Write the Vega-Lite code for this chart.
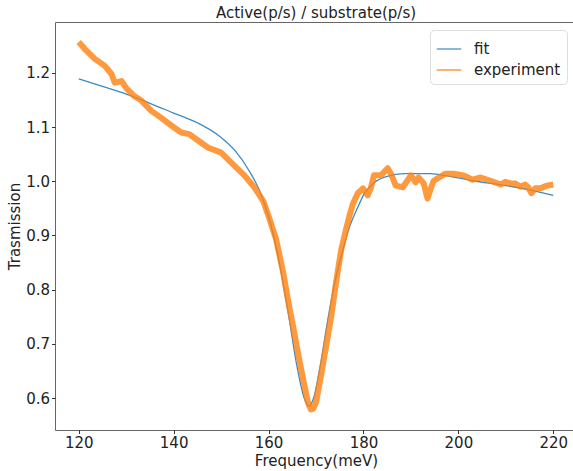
{
  "$schema": "https://vega.github.io/schema/vega-lite/v6.json",
  "autosize": "none",
  "width": 522,
  "height": 408,
  "padding": {"left": 55, "top": 22, "right": 0, "bottom": 41},
  "title": {"text": "Active(p/s) / substrate(p/s)", "fontSize": 15, "font": "DejaVu Sans", "fontWeight": "normal", "color": "#222", "offset": 1},
  "config": {
    "view": {"stroke": "#666", "strokeWidth": 1},
    "axis": {"grid": false, "domain": false, "tickColor": "#333", "tickSize": 3.5, "labelFont": "DejaVu Sans", "labelFontSize": 15, "labelColor": "#222", "titleFont": "DejaVu Sans", "titleFontSize": 15, "titleFontWeight": "normal", "titleColor": "#222", "labelPadding": 2}
  },
  "data": {"values": [
    {"x": 120, "y": 1.189, "s": "fit"},
    {"x": 125, "y": 1.175, "s": "fit"},
    {"x": 130, "y": 1.161, "s": "fit"},
    {"x": 135, "y": 1.144, "s": "fit"},
    {"x": 140, "y": 1.126, "s": "fit"},
    {"x": 145, "y": 1.108, "s": "fit"},
    {"x": 150, "y": 1.081, "s": "fit"},
    {"x": 153, "y": 1.056, "s": "fit"},
    {"x": 156, "y": 1.018, "s": "fit"},
    {"x": 158, "y": 0.985, "s": "fit"},
    {"x": 160, "y": 0.935, "s": "fit"},
    {"x": 162, "y": 0.862, "s": "fit"},
    {"x": 164, "y": 0.765, "s": "fit"},
    {"x": 166, "y": 0.658, "s": "fit"},
    {"x": 167.5, "y": 0.600, "s": "fit"},
    {"x": 168.5, "y": 0.585, "s": "fit"},
    {"x": 169.5, "y": 0.600, "s": "fit"},
    {"x": 171, "y": 0.665, "s": "fit"},
    {"x": 172.5, "y": 0.745, "s": "fit"},
    {"x": 174, "y": 0.815, "s": "fit"},
    {"x": 175.5, "y": 0.868, "s": "fit"},
    {"x": 177, "y": 0.914, "s": "fit"},
    {"x": 178.8, "y": 0.952, "s": "fit"},
    {"x": 180.1, "y": 0.976, "s": "fit"},
    {"x": 182.2, "y": 0.997, "s": "fit"},
    {"x": 185, "y": 1.009, "s": "fit"},
    {"x": 188.5, "y": 1.014, "s": "fit"},
    {"x": 194, "y": 1.014, "s": "fit"},
    {"x": 196.3, "y": 1.012, "s": "fit"},
    {"x": 203, "y": 1.001, "s": "fit"},
    {"x": 210, "y": 0.992, "s": "fit"},
    {"x": 215, "y": 0.984, "s": "fit"},
    {"x": 220, "y": 0.974, "s": "fit"},
    {"x": 120, "y": 1.257, "s": "experiment"},
    {"x": 121.3, "y": 1.244, "s": "experiment"},
    {"x": 123.4, "y": 1.226, "s": "experiment"},
    {"x": 125.5, "y": 1.213, "s": "experiment"},
    {"x": 126.9, "y": 1.198, "s": "experiment"},
    {"x": 127.6, "y": 1.182, "s": "experiment"},
    {"x": 129, "y": 1.185, "s": "experiment"},
    {"x": 130.1, "y": 1.171, "s": "experiment"},
    {"x": 131.6, "y": 1.158, "s": "experiment"},
    {"x": 133.2, "y": 1.149, "s": "experiment"},
    {"x": 135.3, "y": 1.130, "s": "experiment"},
    {"x": 137.4, "y": 1.117, "s": "experiment"},
    {"x": 139.5, "y": 1.103, "s": "experiment"},
    {"x": 141.6, "y": 1.090, "s": "experiment"},
    {"x": 143.3, "y": 1.087, "s": "experiment"},
    {"x": 144.4, "y": 1.080, "s": "experiment"},
    {"x": 147.3, "y": 1.062, "s": "experiment"},
    {"x": 150, "y": 1.053, "s": "experiment"},
    {"x": 152.1, "y": 1.035, "s": "experiment"},
    {"x": 154.9, "y": 1.011, "s": "experiment"},
    {"x": 157, "y": 0.989, "s": "experiment"},
    {"x": 158.9, "y": 0.963, "s": "experiment"},
    {"x": 160.1, "y": 0.933, "s": "experiment"},
    {"x": 161.6, "y": 0.893, "s": "experiment"},
    {"x": 163.1, "y": 0.831, "s": "experiment"},
    {"x": 164.1, "y": 0.781, "s": "experiment"},
    {"x": 165.2, "y": 0.731, "s": "experiment"},
    {"x": 166.2, "y": 0.683, "s": "experiment"},
    {"x": 167.3, "y": 0.634, "s": "experiment"},
    {"x": 168.3, "y": 0.592, "s": "experiment"},
    {"x": 168.9, "y": 0.579, "s": "experiment"},
    {"x": 169.4, "y": 0.580, "s": "experiment"},
    {"x": 170, "y": 0.592, "s": "experiment"},
    {"x": 171, "y": 0.639, "s": "experiment"},
    {"x": 172.1, "y": 0.694, "s": "experiment"},
    {"x": 173.2, "y": 0.750, "s": "experiment"},
    {"x": 174.2, "y": 0.812, "s": "experiment"},
    {"x": 175.3, "y": 0.873, "s": "experiment"},
    {"x": 176.3, "y": 0.910, "s": "experiment"},
    {"x": 177.1, "y": 0.938, "s": "experiment"},
    {"x": 177.8, "y": 0.959, "s": "experiment"},
    {"x": 178.8, "y": 0.978, "s": "experiment"},
    {"x": 179.9, "y": 0.987, "s": "experiment"},
    {"x": 180.9, "y": 0.974, "s": "experiment"},
    {"x": 181.6, "y": 0.989, "s": "experiment"},
    {"x": 182.2, "y": 1.011, "s": "experiment"},
    {"x": 183.7, "y": 1.011, "s": "experiment"},
    {"x": 185.1, "y": 1.024, "s": "experiment"},
    {"x": 185.8, "y": 1.014, "s": "experiment"},
    {"x": 186.8, "y": 0.992, "s": "experiment"},
    {"x": 188.3, "y": 0.989, "s": "experiment"},
    {"x": 190, "y": 1.011, "s": "experiment"},
    {"x": 191, "y": 0.998, "s": "experiment"},
    {"x": 191.6, "y": 1.007, "s": "experiment"},
    {"x": 192.7, "y": 0.996, "s": "experiment"},
    {"x": 193.5, "y": 0.968, "s": "experiment"},
    {"x": 194.2, "y": 0.987, "s": "experiment"},
    {"x": 194.8, "y": 1.001, "s": "experiment"},
    {"x": 196.3, "y": 1.009, "s": "experiment"},
    {"x": 197.3, "y": 1.014, "s": "experiment"},
    {"x": 199, "y": 1.014, "s": "experiment"},
    {"x": 201.1, "y": 1.011, "s": "experiment"},
    {"x": 203, "y": 1.003, "s": "experiment"},
    {"x": 204.7, "y": 1.007, "s": "experiment"},
    {"x": 206.8, "y": 1.001, "s": "experiment"},
    {"x": 208.9, "y": 0.994, "s": "experiment"},
    {"x": 209.9, "y": 0.999, "s": "experiment"},
    {"x": 211, "y": 0.996, "s": "experiment"},
    {"x": 212, "y": 0.996, "s": "experiment"},
    {"x": 213.1, "y": 0.990, "s": "experiment"},
    {"x": 214.1, "y": 0.994, "s": "experiment"},
    {"x": 214.7, "y": 0.989, "s": "experiment"},
    {"x": 215.4, "y": 0.978, "s": "experiment"},
    {"x": 216.2, "y": 0.987, "s": "experiment"},
    {"x": 217.3, "y": 0.987, "s": "experiment"},
    {"x": 218.7, "y": 0.992, "s": "experiment"},
    {"x": 220, "y": 0.994, "s": "experiment"}
  ]},
  "encoding": {
    "x": {"field": "x", "type": "quantitative", "scale": {"domain": [115, 225], "nice": false, "zero": false}, "axis": {"values": [120, 140, 160, 180, 200, 220], "title": "Frequency(meV)", "titlePadding": 3}},
    "y": {"field": "y", "type": "quantitative", "scale": {"domain": [0.541, 1.294], "nice": false, "zero": false}, "axis": {"values": [0.6, 0.7, 0.8, 0.9, 1.0, 1.1, 1.2], "format": ".1f", "title": "Trasmission", "titlePadding": 3}},
    "color": {"field": "s", "type": "nominal", "scale": {"domain": ["fit", "experiment"], "range": ["#3d8ac4", "#ff7f0e"]},
      "legend": {"title": null, "orient": "none", "legendX": 375, "legendY": 8, "symbolType": "stroke", "symbolSize": 600, "symbolStrokeWidth": 1.5, "labelFont": "DejaVu Sans", "labelFontSize": 15, "labelColor": "#222", "rowPadding": 0, "padding": 6, "strokeColor": "#ddd", "fillColor": "white", "cornerRadius": 4, "labelOffset": 12}}
  },
  "layer": [
    {"transform": [{"filter": "datum.s == 'fit'"}], "mark": {"type": "line", "strokeWidth": 1.3, "interpolate": "monotone"}},
    {"transform": [{"filter": "datum.s == 'experiment'"}], "mark": {"type": "line", "strokeWidth": 6, "opacity": 0.8, "strokeJoin": "round"}}
  ]
}
